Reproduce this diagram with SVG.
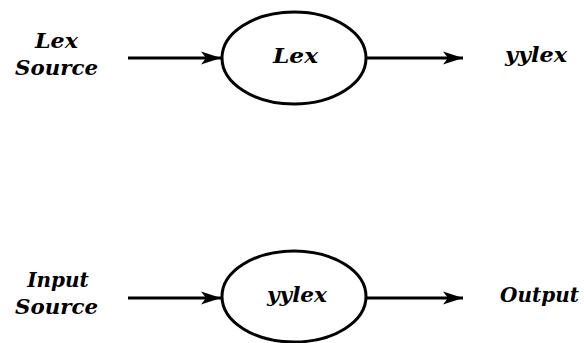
<svg xmlns="http://www.w3.org/2000/svg" width="584" height="343" viewBox="0 0 584 343">
<style>
.t{font-family:"DejaVu Serif","Liberation Serif",serif;font-weight:bold;font-style:italic;font-size:20px;fill:#000}
.n{fill:none;stroke:#000;stroke-width:3}
.c{stroke:#000;stroke-width:2.8;fill:none}
</style>
<defs>
<marker id="ah" markerUnits="userSpaceOnUse" markerWidth="22" markerHeight="14" refX="20" refY="7" orient="auto">
<path d="M0,0.5 L20,7 L0,13.5 L5,7 Z" fill="#000"/>
</marker>
</defs>
<rect width="584" height="343" fill="#fff"/>
<g id="lex-source">
<text class="t" x="56.5" y="48" text-anchor="middle" textLength="43" lengthAdjust="spacingAndGlyphs">Lex</text>
<text class="t" x="15" y="75" textLength="83" lengthAdjust="spacingAndGlyphs">Source</text>
</g>
<g id="lex">
<ellipse class="n" cx="294" cy="58" rx="72" ry="46"/>
<text class="t" x="273" y="63" textLength="45" lengthAdjust="spacingAndGlyphs">Lex</text>
</g>
<g id="yylex-out">
<text class="t" x="505" y="62" textLength="62" lengthAdjust="spacingAndGlyphs">yylex</text>
</g>
<g id="input-source">
<text class="t" x="58" y="287" text-anchor="middle">Input</text>
<text class="t" x="15" y="314" textLength="83" lengthAdjust="spacingAndGlyphs">Source</text>
</g>
<g id="yylex">
<ellipse class="n" cx="294" cy="296.5" rx="72" ry="45.5"/>
<text class="t" x="267" y="302" textLength="60" lengthAdjust="spacingAndGlyphs">yylex</text>
</g>
<g id="output">
<text class="t" x="500" y="302">Output</text>
</g>
<g id="connectors">
<line class="c" x1="128" y1="58" x2="221" y2="58" marker-end="url(#ah)"/>
<line class="c" x1="366" y1="58" x2="463" y2="58" marker-end="url(#ah)"/>
<line class="c" x1="128" y1="298" x2="221" y2="298" marker-end="url(#ah)"/>
<line class="c" x1="366" y1="298" x2="463" y2="298" marker-end="url(#ah)"/>
</g>
</svg>
